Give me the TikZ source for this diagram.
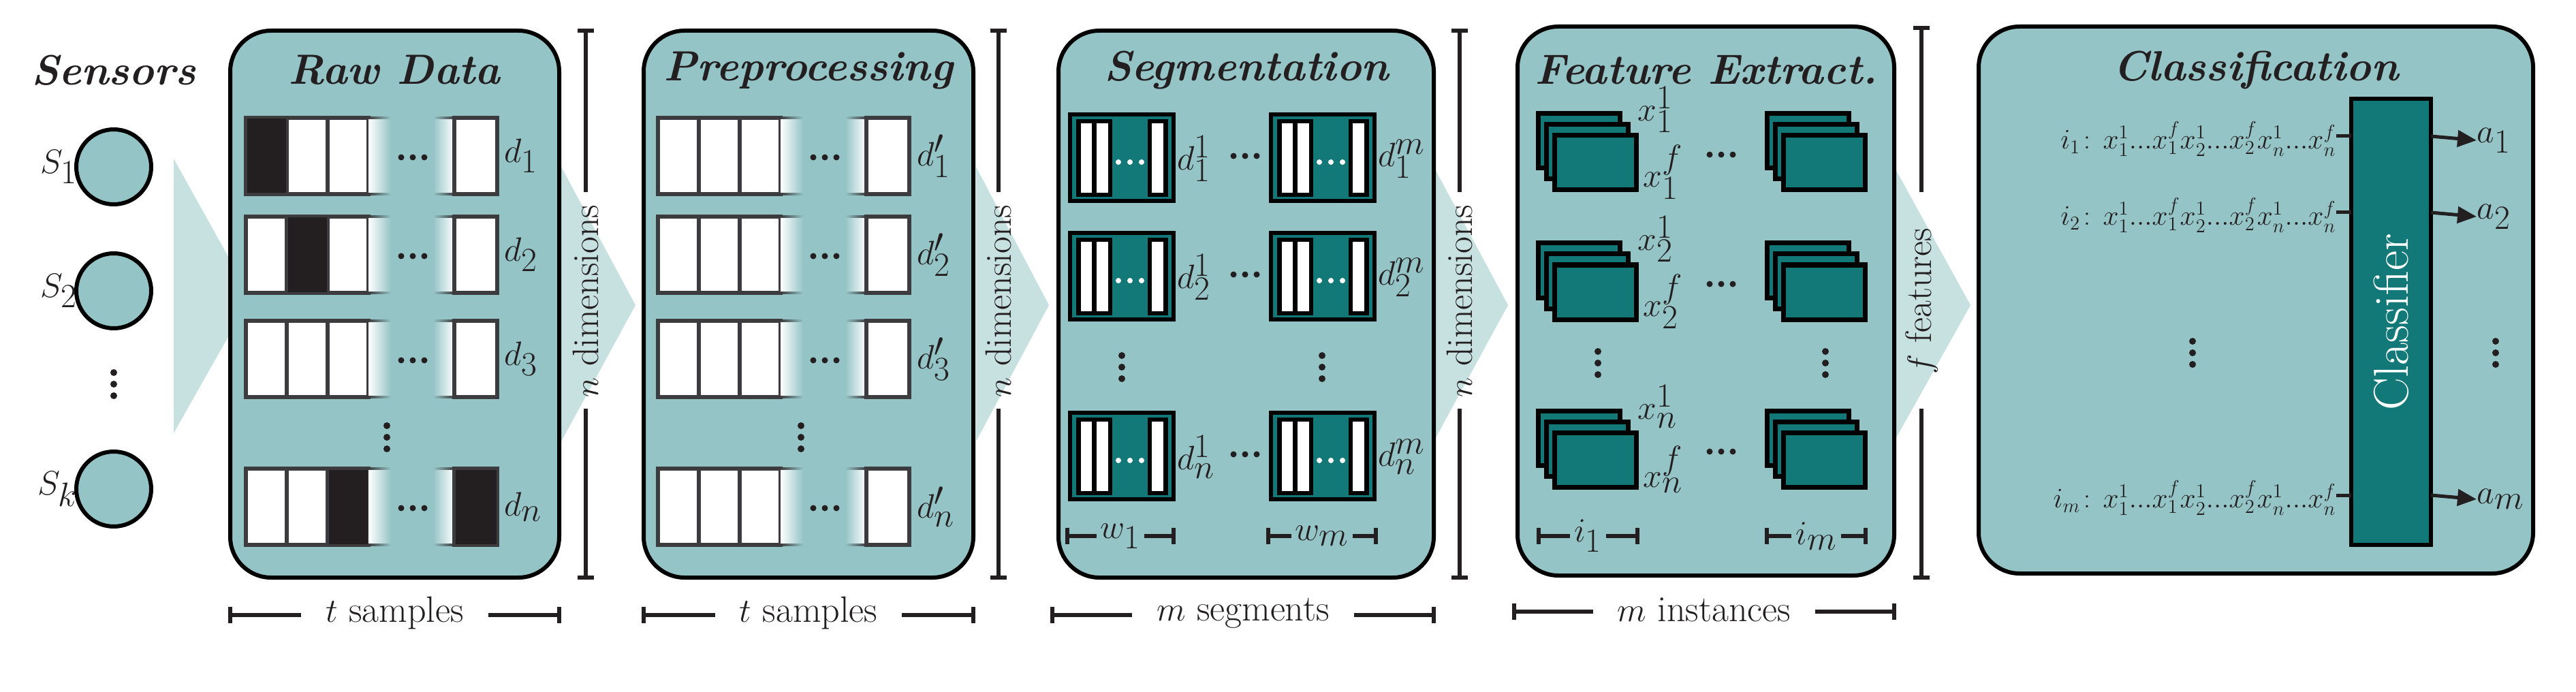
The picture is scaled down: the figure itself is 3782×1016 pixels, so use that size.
\documentclass[tikz,border=0pt]{standalone}
\usetikzlibrary{arrows.meta}
\definecolor{boxc}{HTML}{95C4C6}
\definecolor{chev}{HTML}{C7E0E0}
\definecolor{tealc}{HTML}{137878}
\definecolor{ink}{HTML}{231F20}
\definecolor{cellb}{HTML}{3C3C3E}
\newcommand{\Fti}{\fontsize{31}{36}\selectfont\bfseries\itshape}
\newcommand{\Flab}{\fontsize{34}{38}\selectfont}
\newcommand{\Fsm}{\fontsize{27}{31}\selectfont}
\newcommand{\Frow}{\fontsize{22}{26}\selectfont}
\begin{document}
\begin{tikzpicture}[x=0.5pt,y=-0.5pt,
  stage/.style={draw=black,line width=3pt,fill=boxc,rounded corners=30pt},
  chevron/.style={fill=chev,draw=none},
  brk/.style={line width=3pt,draw=ink},
  title/.style={font=\Fti,text=ink},
  lab/.style={font=\Flab,text=ink,inner sep=0pt},
  sm/.style={font=\Fsm,text=ink,fill=white,inner sep=5pt},
  cell/.style={draw=cellb,line width=3pt},
  sensor/.style={circle,draw=black,line width=3pt,fill=boxc,minimum size=110pt*0.5},
  vd/.pic={\foreach \d in {-17,0,17} \fill[#1] (0,\d) circle (5);},
  hd/.pic={\foreach \d in {-17,0,17} \fill[#1] (\d,0) circle (4.5);}]
\useasboundingbox (0,0) rectangle (3782,1016);
% chevrons
\fill[chevron] (255,233) -- (368,436) -- (255,636) -- cycle;
\foreach \b/\t in {824/933,1433/1540,2105/2214,2781/2893}
  \fill[chevron] (\b,245) -- (\t,448) -- (\b,648) -- cycle;
% stage boxes
\draw[stage] (338,45) rectangle (821,848);
\draw[stage] (945,45) rectangle (1429,848);
\draw[stage] (1554,45) rectangle (2105,848);
\draw[stage] (2228,39) rectangle (2781,845);
\draw[stage] (2905,39) rectangle (3719,842);
\node[title] (tS) at (167,103) {Sensors};
\node[title] (tR) at (579,103) {Raw Data};
\node[title] (tP) at (1187,103) {Preprocessing};
\node[title] (tG) at (1830,103) {Segmentation};
\node[title] (tF) at (2505,103) {Feature Extract.};
\node[title] (tC) at (3312,103) {Classification};
% sensors
\node[sensor] (s1) at (167,245) {};
\node[sensor] (s2) at (167,427) {};
\node[sensor] (sk) at (167,718) {};
\node[lab,anchor=east] (ls1) at (114,245) {$S_1$};
\node[lab,anchor=east] (ls2) at (114,427) {$S_2$};
\node[lab,anchor=east] (lsk) at (114,718) {$S_k$};
\pic at (167,564) {vd=ink};
% data rows: raw and preprocessed
\foreach \x/\pre in {361/R,966/P}{
 \foreach \yt/\k in {173/1,318/2,471/3,688/4}{
  \pgfmathsetmacro{\yb}{\yt+112}
  \foreach \i in {0,1,2}
    \draw[cell,fill=white] (\x+\i*60,\yt) rectangle (\x+\i*60+60,\yb);
  \shade[left color=white,right color=boxc] (\x+180,\yt) rectangle (\x+213,\yb);
  \shade[left color=cellb,right color=boxc] (\x+180,\yt-1.5) rectangle (\x+213,\yt+1.5);
  \shade[left color=cellb,right color=boxc] (\x+180,\yb-1.5) rectangle (\x+213,\yb+1.5);
  \shade[right color=white,left color=boxc] (\x+275,\yt) rectangle (\x+306,\yb);
  \shade[right color=cellb,left color=boxc] (\x+275,\yt-1.5) rectangle (\x+306,\yt+1.5);
  \shade[right color=cellb,left color=boxc] (\x+275,\yb-1.5) rectangle (\x+306,\yb+1.5);
  \draw[cell,fill=white] (\x+306,\yt) rectangle (\x+369,\yb);
  \pic at (\x+245,\yt+58) {hd=ink};
 }
}
% black raw cells
\fill[ink] (362.5,174.5) rectangle (419.5,283.5);
\fill[ink] (422.5,319.5) rectangle (479.5,428.5);
\fill[ink] (482.5,689.5) rectangle (539.5,798.5);
\fill[ink] (668.5,689.5) rectangle (728.5,798.5);
\pic at (568,642) {vd=ink};
\pic at (1176,642) {vd=ink};
\foreach \c/\k in {229/1,374/2,527/3,744/n}{
  \node[lab,anchor=west] at (740,\c) {$d_{\k}$};
  \node[lab,anchor=west] at (1346,\c) {$d'_{\k}$};
}
% segmentation blocks
\foreach \yt/\k in {165/1,339/2,603/n}{
 \foreach \xo/\s in {1568/1,1863/m}{
  \fill[black] (\xo,\yt) rectangle (\xo+158,\yt+133);
  \fill[tealc] (\xo+6,\yt+6) rectangle (\xo+152,\yt+127);
  \fill[black] (\xo+12,\yt+10) rectangle (\xo+65,\yt+124);
  \fill[white] (\xo+19,\yt+16) rectangle (\xo+35,\yt+118);
  \fill[white] (\xo+42,\yt+16) rectangle (\xo+59,\yt+118);
  \fill[black] (\xo+117,\yt+10) rectangle (\xo+147,\yt+124);
  \fill[white] (\xo+123,\yt+16) rectangle (\xo+140,\yt+118);
  \foreach \d in {74,91,108} \fill[white] (\xo+\d,\yt+73) circle (4);
  \node[lab,anchor=west] at (\xo+160,\yt+68) {$d_{\k}^{\s}$};
 }
 \pic at (1828,\yt+64) {hd=ink};
}
\pic at (1647,539) {vd=ink};
\pic at (1941,539) {vd=ink};
% feature stacks
\foreach \T/\k in {167/1,357/2,603/n}{
 \foreach \xo in {2258,2594}{
  \foreach \o in {0,1,2}
   \draw[fill=tealc,line width=3.5pt] (\xo+\o*12,\T+\o*16) rectangle (\xo+\o*12+120,\T+\o*16+80);
 }
 \node[lab,anchor=west] at (2404,\T-6) {$x_{\k}^{1}$};
 \node[lab,anchor=west] at (2412,\T+86) {$x_{\k}^{f}$};
 \pic at (2527,\T+60) {hd=ink};
}
\pic at (2346,533) {vd=ink};
\pic at (2680,533) {vd=ink};
% classification
\node[draw=black,line width=3pt,fill=tealc,minimum width=117*0.5pt,minimum height=655*0.5pt,inner sep=0pt] (clf) at (3510.5,472.5) {};
\node[rotate=90,text=white,font=\fontsize{36}{42}\selectfont] (clft) at (clf.center) {Classifier};
\foreach \y/\k/\a in {200/1/1,312/2/2,727/m/m}{
  \node[font=\Frow,text=ink,anchor=east,inner sep=0pt] (r\k) at (3430,\y+4) {$i_{\k}\!:\,x_1^1{.}{.}{.}x_1^f x_2^1{.}{.}{.}x_2^f x_n^1{.}{.}{.}x_n^f$};
  \coordinate (rs\k) at (3430,\y);
  \coordinate (ce\k) at (3452,\y);
  \draw[line width=2.5pt,ink] (rs\k) -- (ce\k);
  \coordinate (cs\k) at (3569,\y);
  \node[lab,anchor=west] (a\k) at (3636,\y+6) {$a_{\a}$};
  \draw[line width=2.5pt,ink,-{Triangle[length=14pt,width=12pt]}] (cs\k) -- (a\k.west);
}
\pic at (3219,518) {vd=ink};
\pic at (3664,518) {vd=ink};
% vertical brackets
\foreach \xb/\tx/\yt in {860/{$n$ dimensions}/45,1466/{$n$ dimensions}/45,2143/{$n$ dimensions}/45,2821/{$f$ features}/41}{
  \draw[brk] (\xb,\yt) -- (\xb,282);
  \draw[brk] (\xb,600) -- (\xb,848);
  \draw[brk] (\xb-12,\yt) -- (\xb+12,\yt);
  \draw[brk] (\xb-12,848) -- (\xb+12,848);
  \node[rotate=90,font=\Fsm,text=ink] at (\xb,442) {\tx};
}
% horizontal brackets
\foreach \xa/\xb/\yy/\tx in {338/821/903/{$t$ samples},945/1429/903/{$t$ samples},1545/2105/903/{$m$ segments},2223/2781/898/{$m$ instances}}{
  \draw[brk] (\xa,\yy) -- (\xb,\yy);
  \draw[brk] (\xa,\yy-12) -- (\xa,\yy+12);
  \draw[brk] (\xb,\yy-12) -- (\xb,\yy+12);
  \node[sm,inner xsep=18pt] at ({(\xa+\xb)/2},\yy-3) {\tx};
}
% small in-box brackets
\foreach \xa/\xb/\tx in {1567/1723/{$w_1$},1862/2020/{$w_m$},2259/2404/{$i_1$},2594/2739/{$i_m$}}{
  \draw[brk] (\xa,787) -- (\xb,787);
  \draw[brk] (\xa,775) -- (\xa,799);
  \draw[brk] (\xb,775) -- (\xb,799);
  \node[lab,fill=boxc,inner sep=3pt] at ({(\xa+\xb)/2},787) {\tx};
}
\end{tikzpicture}
\end{document}
